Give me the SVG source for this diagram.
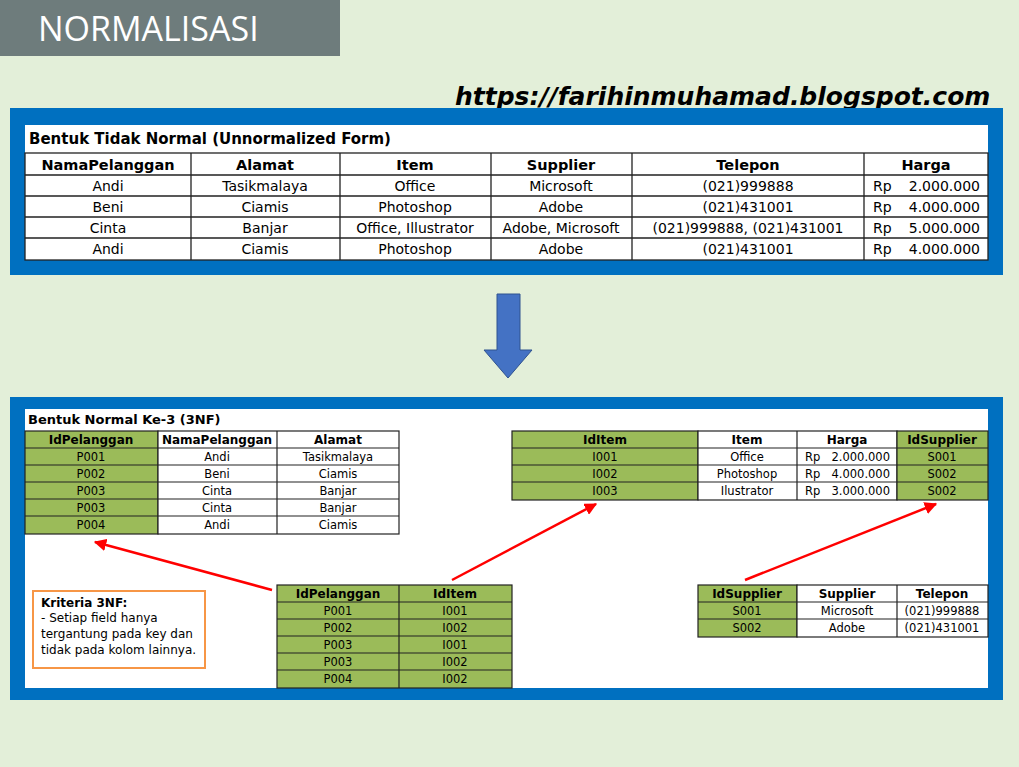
<svg xmlns="http://www.w3.org/2000/svg" width="1019" height="767" viewBox="0 0 1019 767">
<style>
text{font-family:"DejaVu Sans","Liberation Sans",sans-serif;fill:#000}
.t{font-size:14px;text-anchor:middle}
.tb{font-size:14.5px;font-weight:bold;text-anchor:middle}
.s{font-size:11.5px;text-anchor:middle}
.sb{font-size:12px;font-weight:bold;text-anchor:middle}
.c{fill:#fff;stroke:#222;stroke-width:1.2}
.g{fill:#9BBB59;stroke:#222;stroke-width:1.2}
.red{stroke:#F00;stroke-width:2.5;fill:none;marker-end:url(#ah)}
</style>
<defs><marker id="ah" viewBox="0 0 10 10" refX="9" refY="5" markerWidth="5" markerHeight="5" orient="auto"><path d="M0,0L10,5L0,10z" fill="#F00"/></marker></defs>
<rect width="1019" height="767" fill="#E3EFD9"/>
<g id="title"><rect x="0" y="0" width="340" height="56" fill="#6E7C7C"/><text x="38" y="41" style="font-size:34px;fill:#fff;font-family:'Open Sans','Liberation Sans',sans-serif">NORMALISASI</text></g>
<text x="455" y="105" style="font-size:25px;font-weight:bold;font-style:italic">https://farihinmuhamad.blogspot.com</text>

<g id="unnormalized">
<rect x="10" y="108" width="993" height="167" fill="#0070C0"/>
<rect x="25" y="125" width="963" height="135" fill="#fff"/>
<text x="29" y="144" style="font-size:15px;font-weight:bold">Bentuk Tidak Normal (Unnormalized Form)</text>
<g fill="none" stroke="#222" stroke-width="1.3">
<rect x="25" y="153" width="963" height="107"/>
<path d="M25,175H988M25,196H988M25,217H988M25,238H988M191,153V260M340,153V260M491,153V260M632,153V260M864,153V260"/>
</g>
<text class="tb" x="108" y="170">NamaPelanggan</text><text class="tb" x="265" y="170">Alamat</text><text class="tb" x="415" y="170">Item</text><text class="tb" x="561" y="170">Supplier</text><text class="tb" x="748" y="170">Telepon</text><text class="tb" x="926" y="170">Harga</text>
<text class="t" x="108" y="191">Andi</text><text class="t" x="265" y="191">Tasikmalaya</text><text class="t" x="415" y="191">Office</text><text class="t" x="561" y="191">Microsoft</text><text class="t" x="748" y="191">(021)999888</text>
<text class="t" x="108" y="212">Beni</text><text class="t" x="265" y="212">Ciamis</text><text class="t" x="415" y="212">Photoshop</text><text class="t" x="561" y="212">Adobe</text><text class="t" x="748" y="212">(021)431001</text>
<text class="t" x="108" y="233">Cinta</text><text class="t" x="265" y="233">Banjar</text><text class="t" x="415" y="233">Office, Illustrator</text><text class="t" x="561" y="233">Adobe, Microsoft</text><text class="t" x="748" y="233">(021)999888, (021)431001</text>
<text class="t" x="108" y="254">Andi</text><text class="t" x="265" y="254">Ciamis</text><text class="t" x="415" y="254">Photoshop</text><text class="t" x="561" y="254">Adobe</text><text class="t" x="748" y="254">(021)431001</text>
<g style="font-size:14px"><text x="873" y="191">Rp</text><text x="873" y="212">Rp</text><text x="873" y="233">Rp</text><text x="873" y="254">Rp</text>
<text x="980" y="191" text-anchor="end">2.000.000</text><text x="980" y="212" text-anchor="end">4.000.000</text><text x="980" y="233" text-anchor="end">5.000.000</text><text x="980" y="254" text-anchor="end">4.000.000</text></g>
</g>

<g id="down-arrow"><path d="M497,294H520V350H532L508,378L484,350H497Z" fill="#4472C4" stroke="#2F528F" stroke-width="1"/></g>

<g id="normal3">
<rect x="10" y="397" width="993" height="303" fill="#0070C0"/>
<rect x="25" y="409" width="963" height="279" fill="#fff"/>
<text x="28" y="424" style="font-size:13px;font-weight:bold">Bentuk Normal Ke-3 (3NF)</text>
</g>

<g id="tbl-pelanggan">
<rect class="g" x="25" y="431" width="133" height="103"/>
<rect class="c" x="158" y="431" width="241" height="103"/>
<path d="M25,448H399M25,465H399M25,482H399M25,499H399M25,516H399M277,431V534" stroke="#222" stroke-width="1.2"/>
<text class="sb" x="91" y="444">IdPelanggan</text><text class="sb" x="217" y="444">NamaPelanggan</text><text class="sb" x="338" y="444">Alamat</text>
<text class="s" x="91" y="461">P001</text><text class="s" x="217" y="461">Andi</text><text class="s" x="338" y="461">Tasikmalaya</text>
<text class="s" x="91" y="478">P002</text><text class="s" x="217" y="478">Beni</text><text class="s" x="338" y="478">Ciamis</text>
<text class="s" x="91" y="495">P003</text><text class="s" x="217" y="495">Cinta</text><text class="s" x="338" y="495">Banjar</text>
<text class="s" x="91" y="512">P003</text><text class="s" x="217" y="512">Cinta</text><text class="s" x="338" y="512">Banjar</text>
<text class="s" x="91" y="529">P004</text><text class="s" x="217" y="529">Andi</text><text class="s" x="338" y="529">Ciamis</text>
</g>

<g id="tbl-item">
<rect class="g" x="512" y="431" width="186" height="69"/>
<rect class="c" x="698" y="431" width="199" height="69"/>
<rect class="g" x="897" y="431" width="91" height="69"/>
<path d="M512,448H988M512,465H988M512,482H988M797,431V500" stroke="#222" stroke-width="1.2"/>
<text class="sb" x="605" y="444">IdItem</text><text class="sb" x="747" y="444">Item</text><text class="sb" x="847" y="444">Harga</text><text class="sb" x="942" y="444">IdSupplier</text>
<text class="s" x="605" y="461">I001</text><text class="s" x="747" y="461">Office</text><text class="s" x="942" y="461">S001</text>
<text class="s" x="605" y="478">I002</text><text class="s" x="747" y="478">Photoshop</text><text class="s" x="942" y="478">S002</text>
<text class="s" x="605" y="495">I003</text><text class="s" x="747" y="495">Ilustrator</text><text class="s" x="942" y="495">S002</text>
<g style="font-size:11.5px"><text x="805" y="461">Rp</text><text x="805" y="478">Rp</text><text x="805" y="495">Rp</text>
<text x="890" y="461" text-anchor="end">2.000.000</text><text x="890" y="478" text-anchor="end">4.000.000</text><text x="890" y="495" text-anchor="end">3.000.000</text></g>
</g>

<g id="tbl-relasi">
<rect class="g" x="277" y="585" width="235" height="103"/>
<path d="M277,602H512M277,619H512M277,636H512M277,653H512M277,670H512M399,585V688" stroke="#222" stroke-width="1.2"/>
<text class="sb" x="338" y="598">IdPelanggan</text><text class="sb" x="455" y="598">IdItem</text>
<text class="s" x="338" y="615">P001</text><text class="s" x="455" y="615">I001</text>
<text class="s" x="338" y="632">P002</text><text class="s" x="455" y="632">I002</text>
<text class="s" x="338" y="649">P003</text><text class="s" x="455" y="649">I001</text>
<text class="s" x="338" y="666">P003</text><text class="s" x="455" y="666">I002</text>
<text class="s" x="338" y="683">P004</text><text class="s" x="455" y="683">I002</text>
</g>

<g id="tbl-supplier">
<rect class="g" x="698" y="585" width="99" height="52"/>
<rect class="c" x="797" y="585" width="191" height="52"/>
<path d="M698,602H988M698,619H988M897,585V637" stroke="#222" stroke-width="1.2"/>
<text class="sb" x="747" y="598">IdSupplier</text><text class="sb" x="847" y="598">Supplier</text><text class="sb" x="942" y="598">Telepon</text>
<text class="s" x="747" y="615">S001</text><text class="s" x="847" y="615">Microsoft</text><text class="s" x="942" y="615">(021)999888</text>
<text class="s" x="747" y="632">S002</text><text class="s" x="847" y="632">Adobe</text><text class="s" x="942" y="632">(021)431001</text>
</g>

<g id="kriteria">
<rect x="33" y="591" width="172" height="77" fill="#fff" stroke="#F79646" stroke-width="2"/>
<text x="41" y="607" style="font-size:12px;font-weight:bold">Kriteria 3NF:</text>
<text x="41" y="622" style="font-size:12px">- Setiap field hanya</text>
<text x="41" y="638" style="font-size:12px">tergantung pada key dan</text>
<text x="41" y="654" style="font-size:12px">tidak pada kolom lainnya.</text>
</g>

<g id="connectors">
<path class="red" d="M272,590L95,542"/>
<path class="red" d="M452,580L596,504"/>
<path class="red" d="M745,580L936,504"/>
</g>
</svg>
